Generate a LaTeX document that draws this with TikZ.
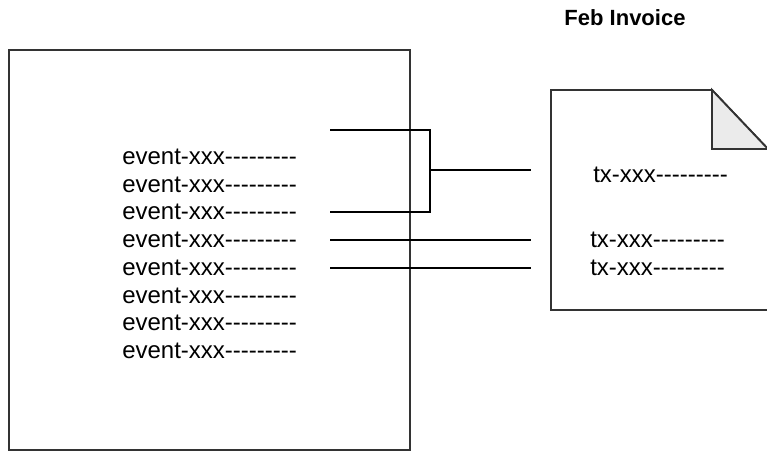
\documentclass[tikz,border=0pt]{standalone}
\usepackage{fontspec}
\setmainfont{Liberation Sans}[Ligatures=TeXOff]
\usetikzlibrary{positioning,calc}

\begin{document}
\begin{tikzpicture}[x=0.75pt,y=-0.75pt,
    rowtext/.style={anchor=west, inner sep=0pt, font=\fontsize{18}{21}\selectfont},
    frame/.style={draw=black!80, line width=1.4pt},
    link/.style={draw=black, line width=1.1pt}
  ]
    \useasboundingbox (0,0) rectangle (767,452);
    % event log and invoice sheet
    \draw[frame] (9,50) rectangle (410,450);
    \draw[frame, fill=white] (551,90) -- (712,90) -- (768,149) -- (768,310) -- (551,310) -- cycle;
    \draw[frame, fill=black!8] (712,90) -- (712,149) -- (768,149) -- cycle;
    \node[font=\fontsize{16.5}{20}\selectfont\bfseries] (title) at (625,18) {Feb Invoice};

    \node[rowtext] (ev1) at (122,157) {event-xxx---------};
    \node[rowtext] (ev2) at (122,185) {event-xxx---------};
    \node[rowtext] (ev3) at (122,212) {event-xxx---------};
    \node[rowtext] (ev4) at (122,240) {event-xxx---------};
    \node[rowtext] (ev5) at (122,268) {event-xxx---------};
    \node[rowtext] (ev6) at (122,296) {event-xxx---------};
    \node[rowtext] (ev7) at (122,323) {event-xxx---------};
    \node[rowtext] (ev8) at (122,351) {event-xxx---------};

    \node[rowtext] (tx1) at (593,175) {tx-xxx---------};
    \node[rowtext] (tx2) at (590,240) {tx-xxx---------};
    \node[rowtext] (tx3) at (590,268) {tx-xxx---------};

    % links
    \coordinate (top) at (330,130);
    \coordinate (join) at (430,170);
    \coordinate (edge) at (531,170);
    \draw[link] (top) -| (join) |- (ev3.east -| top);
    \draw[link] (join) -- (edge);
    \draw[link] (ev4.east -| top) -- (ev4.east -| edge);
    \draw[link] (ev5.east -| top) -- (ev5.east -| edge);
  \end{tikzpicture}
\end{document}
